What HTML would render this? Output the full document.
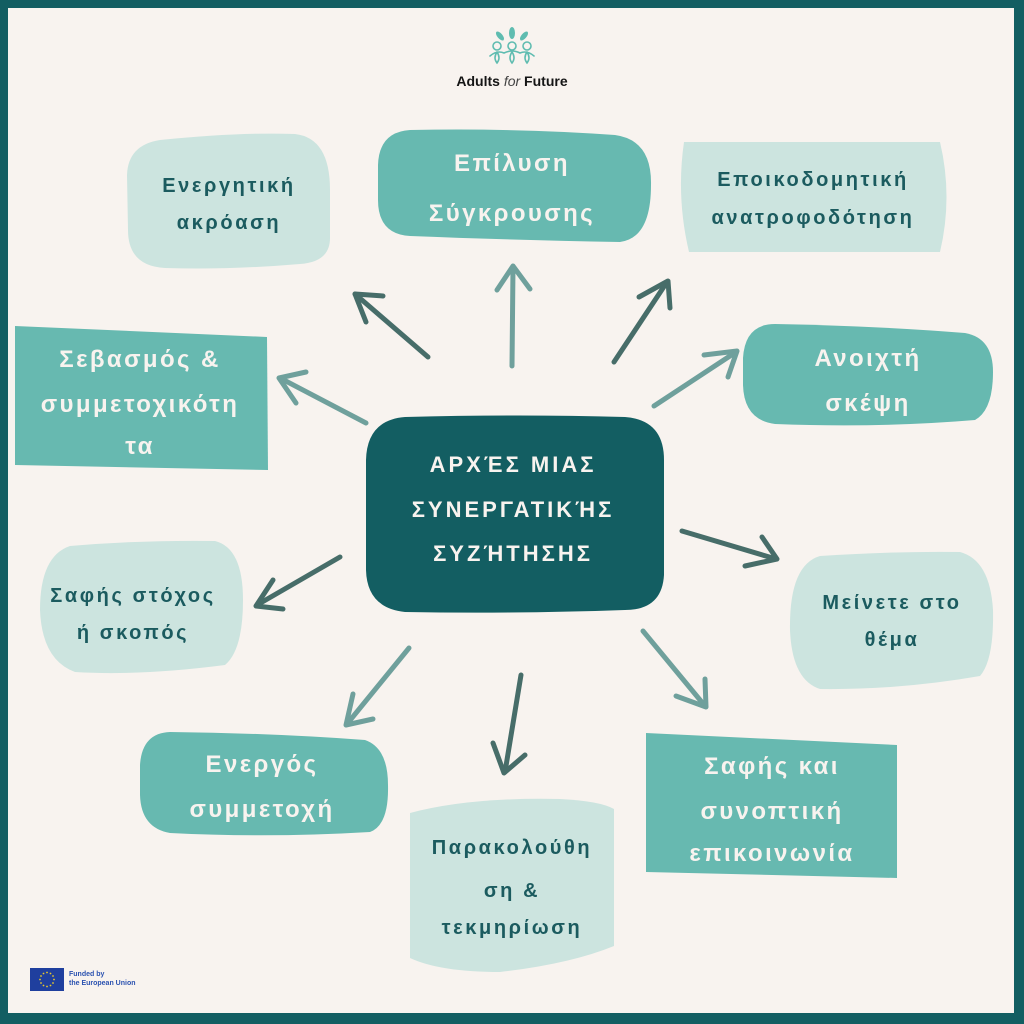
<!DOCTYPE html>
<html>
<head>
<meta charset="utf-8">
<style>
html,body{margin:0;padding:0;}
body{width:1024px;height:1024px;overflow:hidden;background:#135e62;}
svg{display:block;}
.t{font-family:"Liberation Sans","DejaVu Sans",sans-serif;text-anchor:middle;}
.dk{fill:#1b5b5f;font-weight:bold;font-size:20px;letter-spacing:2.6px;}
.wh{fill:#f8f3ef;font-weight:bold;font-size:24px;letter-spacing:2.4px;}
.cn{fill:#f8f3ef;font-weight:bold;font-size:22px;letter-spacing:3px;}
.ad{stroke:#476d69;stroke-width:5;fill:none;stroke-linecap:round;stroke-linejoin:round;}
.al{stroke:#6fa09c;stroke-width:5;fill:none;stroke-linecap:round;stroke-linejoin:round;}
</style>
</head>
<body>
<svg width="1024" height="1024" viewBox="0 0 1024 1024" xmlns="http://www.w3.org/2000/svg">
  <rect x="0" y="0" width="1024" height="1024" fill="#135e62"/>
  <rect x="8" y="8" width="1006" height="1005" fill="#f8f3ef"/>

  <!-- logo -->
  <g fill="#5fbcb0">
    <ellipse cx="512" cy="33" rx="3" ry="6"/>
    <ellipse cx="500" cy="36" rx="2.6" ry="5.5" transform="rotate(-40 500 36)"/>
    <ellipse cx="524" cy="36" rx="2.6" ry="5.5" transform="rotate(40 524 36)"/>
  </g>
  <g stroke="#5fbcb0" stroke-width="1.6" fill="none" stroke-linecap="round">
    <circle cx="497" cy="46" r="4"/>
    <circle cx="512" cy="46" r="4"/>
    <circle cx="527" cy="46" r="4"/>
    <path d="M490 56 Q497 50 504 53 Q512 49 520 53 Q527 50 534 56"/>
    <path d="M497 52 Q493 58 497 63 Q501 58 497 52"/>
    <path d="M512 52 Q508 58 512 63 Q516 58 512 52"/>
    <path d="M527 52 Q523 58 527 63 Q531 58 527 52"/>
  </g>
  <text x="512" y="86" class="t" style="font-size:14px;font-weight:bold;fill:#151515;">Adults <tspan style="font-weight:normal;font-style:italic;fill:#444;">for</tspan> Future</text>

  <!-- Ενεργητική -->
  <path d="M160 140 Q240 132 295 134 Q330 138 330 190 L330 238 Q330 262 300 264 Q230 270 165 268 Q128 266 128 230 L127 175 Q128 145 160 140 Z" fill="#cce4df"/>
  <text class="t dk" x="229" y="192">Ενεργητική</text>
  <text class="t dk" x="229" y="229">ακρόαση</text>

  <!-- Επίλυση -->
  <path d="M410 130 Q520 128 615 135 Q652 140 651 185 Q651 238 620 242 Q510 240 410 236 Q378 234 378 200 L378 165 Q379 132 410 130 Z" fill="#67b9b0"/>
  <text class="t wh" x="512" y="171">Επίλυση</text>
  <text class="t wh" x="512" y="221">Σύγκρουσης</text>

  <!-- Εποικοδομητική -->
  <path d="M684 142 L940 142 Q953 197 940 252 L689 252 Q676 197 684 142 Z" fill="#cce4df"/>
  <text class="t dk" x="813" y="186">Εποικοδομητική</text>
  <text class="t dk" x="813" y="224">ανατροφοδότηση</text>

  <!-- Σεβασμός -->
  <path d="M15 326 L267 337 L268 470 L15 465 Z" fill="#67b9b0"/>
  <text class="t wh" x="140" y="367">Σεβασμός &amp;</text>
  <text class="t wh" x="140" y="412">συμμετοχικότη</text>
  <text class="t wh" x="140" y="454">τα</text>

  <!-- Ανοιχτή -->
  <path d="M775 324 Q880 326 965 333 Q993 338 993 372 Q993 410 975 420 Q880 428 775 424 Q744 420 743 385 L743 358 Q745 324 775 324 Z" fill="#67b9b0"/>
  <text class="t wh" x="868" y="366">Ανοιχτή</text>
  <text class="t wh" x="868" y="411">σκέψη</text>

  <!-- center -->
  <path d="M405 417 Q520 414 625 417 Q664 420 664 460 L664 575 Q662 610 625 610 Q510 614 405 612 Q367 608 366 570 L366 460 Q367 420 405 417 Z" fill="#135e62"/>
  <text class="t cn" x="513" y="472">ΑΡΧΈΣ ΜΙΑΣ</text>
  <text class="t cn" x="513" y="517">ΣΥΝΕΡΓΑΤΙΚΉΣ</text>
  <text class="t cn" x="513" y="561">ΣΥΖΉΤΗΣΗΣ</text>

  <!-- Σαφής στόχος -->
  <path d="M70 546 Q140 540 215 541 Q243 548 243 600 Q243 650 225 665 Q140 676 75 672 Q42 660 40 610 Q40 556 70 546 Z" fill="#cce4df"/>
  <text class="t dk" x="133" y="602">Σαφής στόχος</text>
  <text class="t dk" x="133" y="639">ή σκοπός</text>

  <!-- Μείνετε -->
  <path d="M820 556 Q900 551 960 552 Q990 560 993 610 Q994 660 980 676 Q900 690 820 689 Q792 680 790 630 Q789 565 820 556 Z" fill="#cce4df"/>
  <text class="t dk" x="892" y="609">Μείνετε στο</text>
  <text class="t dk" x="892" y="646">θέμα</text>

  <!-- Ενεργός -->
  <path d="M170 732 Q270 733 365 740 Q388 748 388 785 Q389 825 370 832 Q270 838 170 833 Q141 828 140 795 L140 765 Q142 733 170 732 Z" fill="#67b9b0"/>
  <text class="t wh" x="262" y="772">Ενεργός</text>
  <text class="t wh" x="262" y="817">συμμετοχή</text>

  <!-- Σαφής και -->
  <path d="M646 733 L897 745 L897 878 L646 872 Z" fill="#67b9b0"/>
  <text class="t wh" x="772" y="774">Σαφής και</text>
  <text class="t wh" x="772" y="819">συνοπτική</text>
  <text class="t wh" x="772" y="861">επικοινωνία</text>

  <!-- Παρακολούθηση -->
  <path d="M410 813 Q470 797 560 799 Q600 801 614 809 L614 946 Q570 964 500 972 Q440 972 410 958 Z" fill="#cce4df"/>
  <text class="t dk" x="512" y="854">Παρακολούθη</text>
  <text class="t dk" x="512" y="897">ση &amp;</text>
  <text class="t dk" x="512" y="934">τεκμηρίωση</text>

  <!-- arrows -->
  <g class="ad">
    <path d="M428 357 L355 294"/><path d="M383 296 L355 294 L366 322"/>
  </g>
  <g class="al">
    <path d="M512 366 L513 267"/><path d="M497 290 L513 266 L530 289"/>
  </g>
  <g class="ad">
    <path d="M614 362 L667 282"/><path d="M639 297 L668 281 L670 308"/>
  </g>
  <g class="al">
    <path d="M654 406 L736 352"/><path d="M704 355 L737 351 L728 377"/>
  </g>
  <g class="al">
    <path d="M366 423 L280 378"/><path d="M306 372 L279 378 L296 403"/>
  </g>
  <g class="ad">
    <path d="M682 531 L776 559"/><path d="M762 537 L777 559 L745 566"/>
  </g>
  <g class="ad">
    <path d="M340 557 L257 605"/><path d="M273 580 L256 606 L283 609"/>
  </g>
  <g class="al">
    <path d="M409 648 L347 724"/><path d="M353 694 L346 725 L373 719"/>
  </g>
  <g class="ad">
    <path d="M521 675 L505 772"/><path d="M493 743 L504 773 L525 755"/>
  </g>
  <g class="al">
    <path d="M643 631 L705 706"/><path d="M676 696 L706 707 L705 679"/>
  </g>

  <!-- EU flag -->
  <rect x="30" y="968" width="34" height="23" fill="#1f3f9e"/>
  <g fill="#e8c92a">
    <circle cx="47" cy="972.5" r="0.9"/><circle cx="50.5" cy="973.5" r="0.9"/><circle cx="53" cy="976" r="0.9"/>
    <circle cx="54" cy="979.5" r="0.9"/><circle cx="53" cy="983" r="0.9"/><circle cx="50.5" cy="985.5" r="0.9"/>
    <circle cx="47" cy="986.5" r="0.9"/><circle cx="43.5" cy="985.5" r="0.9"/><circle cx="41" cy="983" r="0.9"/>
    <circle cx="40" cy="979.5" r="0.9"/><circle cx="41" cy="976" r="0.9"/><circle cx="43.5" cy="973.5" r="0.9"/>
  </g>
  <text x="69" y="976" style="font-family:'Liberation Sans',sans-serif;font-size:7px;font-weight:bold;fill:#2b52b0;">Funded by</text>
  <text x="69" y="985" style="font-family:'Liberation Sans',sans-serif;font-size:7px;font-weight:bold;fill:#2b52b0;">the European Union</text>
</svg>
</body>
</html>
